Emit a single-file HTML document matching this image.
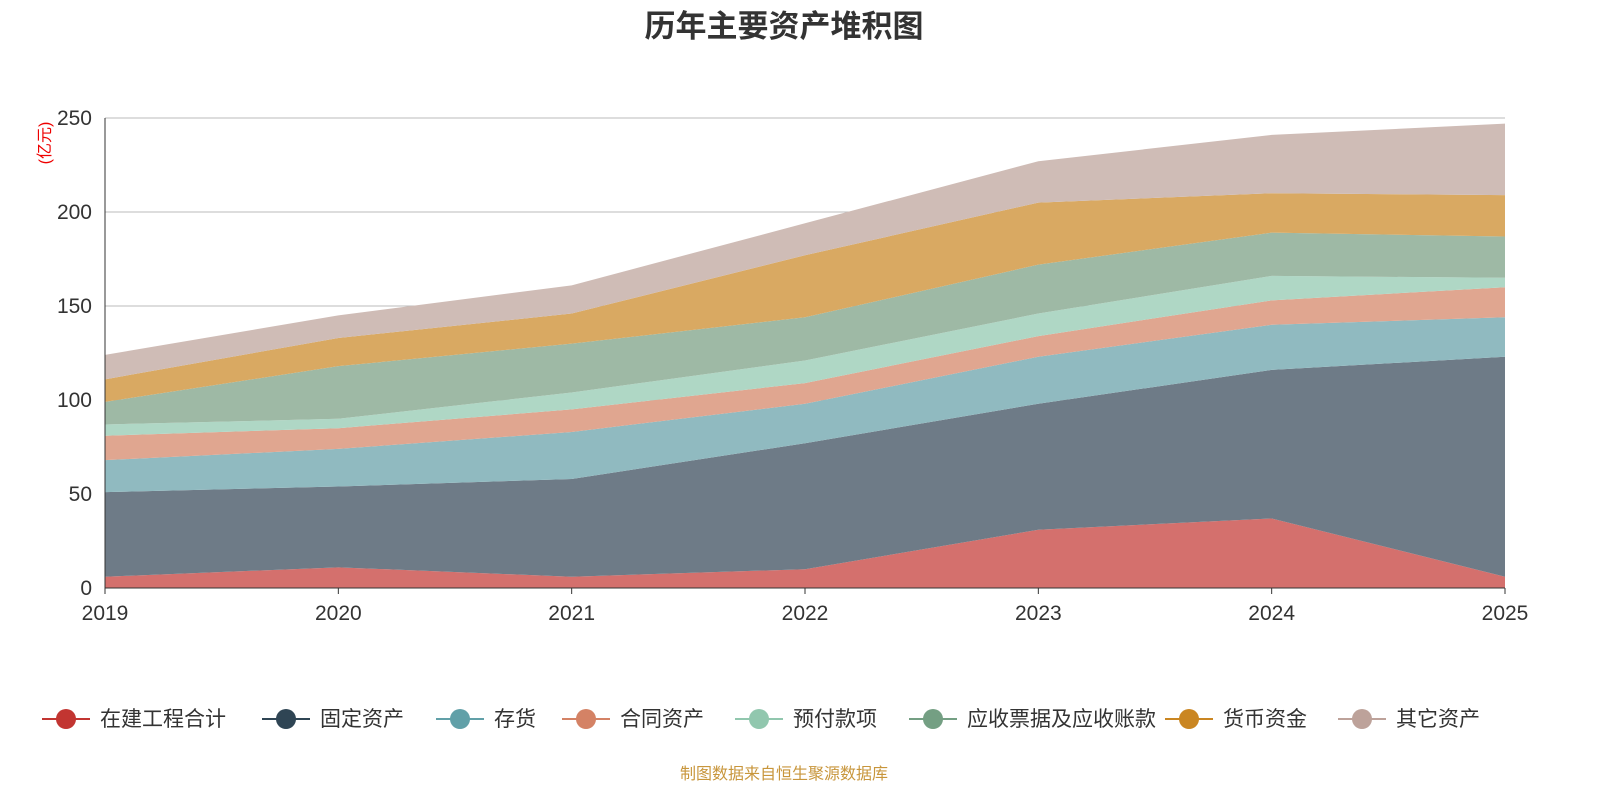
<!DOCTYPE html>
<html><head><meta charset="utf-8"><style>
body{margin:0;background:#fff;}
svg text{font-family:"Liberation Sans","Noto Sans CJK SC",sans-serif;}
</style></head><body>
<svg id="c" width="1600" height="800" xmlns="http://www.w3.org/2000/svg">
<text x="784" y="37" text-anchor="middle" font-size="31" font-weight="bold" fill="#333">历年主要资产堆积图</text>
<text transform="translate(50,143) rotate(-90)" text-anchor="middle" font-size="16" fill="#e00">(亿元)</text>
<g id="grid"></g><g id="areas"></g><g id="axes"></g><g id="legend"></g>
<text x="784" y="779" text-anchor="middle" font-size="16" fill="#c8963c">制图数据来自恒生聚源数据库</text>
</svg>
<script>
const years=["2019","2020","2021","2022","2023","2024","2025"];
const seriesNames=["在建工程合计","固定资产","存货","合同资产","预付款项","应收票据及应收账款","货币资金","其它资产"];
const sCip=[6,11,6,10,31,37,6];
const sFixed=[45,43,52,67,67,79,117];
const sInv=[17,20,25,21,25,24,21];
const sContract=[13,11,12,11,11,13,16];
const sPrepaid=[6,5,9,12,12,13,5];
const sRecv=[12,28,26,23,26,23,22];
const sCash=[12,15,16,33,33,21,22];
const sOther=[13,12,15,17,22,31,38];
const yTicks=[0,50,100,150,200,250];
const series=[sCip,sFixed,sInv,sContract,sPrepaid,sRecv,sCash,sOther];
const fills=["#d4706d","#6e7b87","#90bac0","#e0a690","#afd7c5","#9eb9a5","#d9a962","#cfbcb6"];
const legCols=["#c23531","#2f4554","#61a0a8","#d48265","#91c7ae","#749f83","#ca8622","#bda29a"];
const ns="http://www.w3.org/2000/svg";
const X=i=>105+i*(1400/(years.length-1));
const Y=v=>588-v*(470/250);
function mk(t,a,p){const e=document.createElementNS(ns,t);for(const k in a)e.setAttribute(k,a[k]);p.appendChild(e);return e;}
const grid=document.getElementById('grid'),areas=document.getElementById('areas'),axes=document.getElementById('axes'),leg=document.getElementById('legend');
yTicks.forEach(v=>{
 if(v>0){const g=mk('line',{x1:105,x2:1505,y1:Y(v),y2:Y(v),stroke:'#bbb','stroke-width':1},grid);
 
 }
 const t=mk('text',{x:92,y:Y(v)+7,'text-anchor':'end','font-size':21,fill:'#333'},axes);t.textContent=v;
 
 
});
let base=years.map(()=>0);
series.forEach((s,k)=>{
 const top=base.map((b,i)=>b+s[i]);
 let d='M'+years.map((_,i)=>X(i)+','+Y(top[i])).join('L');
 for(let i=years.length-1;i>=0;i--)d+='L'+X(i)+','+Y(base[i]);
 const p=mk('path',{d:d+'Z',fill:fills[k]},areas);
 
 
 base=top;
});
const ax=mk('line',{x1:105,x2:105,y1:118,y2:588,stroke:'#333'},axes);


const bx=mk('line',{x1:105,x2:1505,y1:588,y2:588,stroke:'#333'},axes);


years.forEach((y,i)=>{
 mk('line',{x1:X(i),x2:X(i),y1:588,y2:594,stroke:'#333'},axes);
 const t=mk('text',{x:X(i),y:620,'text-anchor':'middle','font-size':21,fill:'#333'},axes);t.textContent=y;
 
 
});
const lx=[66,286,460,586,759,933,1189,1362];
seriesNames.forEach((n,k)=>{
 const g=mk('g',{},leg);
 
 
 mk('line',{x1:lx[k]-24,x2:lx[k]+24,y1:719,y2:719,stroke:legCols[k],'stroke-width':2},g);
 mk('circle',{cx:lx[k],cy:719,r:10,fill:legCols[k]},g);
 const t=mk('text',{x:lx[k]+34,y:726,'font-size':21,fill:'#333'},g);t.textContent=n;
});
</script>
</body></html>
